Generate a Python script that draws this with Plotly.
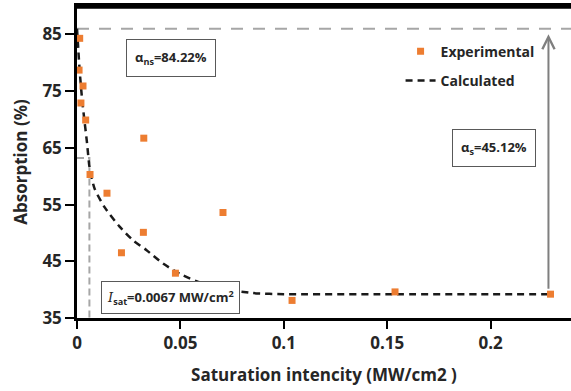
import plotly.graph_objects as go

exp_x = [0.0010, 0.0013, 0.0019, 0.0029, 0.0042, 0.0063, 0.0145, 0.0215, 0.0321, 0.0323, 0.0476, 0.0706, 0.104, 0.1538, 0.229]
exp_y = [78.7, 84.3, 72.9, 75.9, 69.9, 60.3, 57.0, 46.5, 50.1, 66.7, 42.9, 53.6, 38.1, 39.6, 39.2]

# Calculated curve
calc_x = [0.0, 0.0006, 0.0013, 0.0026, 0.0037, 0.0048, 0.0061, 0.0085, 0.0134, 0.0206, 0.0271, 0.0335,
          0.0416, 0.0497, 0.0577, 0.070, 0.085, 0.100, 0.150, 0.200, 0.229]
calc_y = [86.0, 82.5, 78.5, 73.0, 69.5, 66.0, 61.5, 57.8, 54.5, 51.1, 48.7, 47.0,
          44.6, 42.8, 41.5, 40.2, 39.4, 39.2, 39.2, 39.2, 39.2]

# Reference guide values
alpha_top = 86.0
isat_x = 0.006
isat_y = 63.2
arrow_x = 0.228
arrow_from = 39.9
arrow_to = 85.0

x_ticks = [0, 0.05, 0.1, 0.15, 0.2]
x_ticktext = ["0", "0.05", "0.1", "0.15", "0.2"]
y_ticks = [35, 45, 55, 65, 75, 85]

X_MAX = 0.2389
Y_MIN, Y_MAX = 35, 90

FONT = "Open Sans"
ORANGE = "#ED7D31"
GREY = "#a6a6a6"

fig = go.Figure()

# grey dashed guides
fig.add_trace(go.Scatter(x=[0, X_MAX], y=[alpha_top, alpha_top], mode="lines",
                         line=dict(color=GREY, width=2, dash="12px,10px"),
                         showlegend=False, hoverinfo="skip"))
fig.add_trace(go.Scatter(x=[0, isat_x, isat_x], y=[isat_y, isat_y, Y_MIN], mode="lines",
                         line=dict(color=GREY, width=2, dash="7px,4px"),
                         showlegend=False, hoverinfo="skip"))

# calculated curve
fig.add_trace(go.Scatter(x=calc_x, y=calc_y, mode="lines", name="Calculated",
                         line=dict(color="#1a1a1a", width=2.5, dash="7px,5px", shape="spline", smoothing=0.6),
                         legendgroup="b", legendrank=2))

# experimental points
fig.add_trace(go.Scatter(x=exp_x, y=exp_y, mode="markers", name="Experimental",
                         marker=dict(symbol="square", size=7, color=ORANGE),
                         legendgroup="a", legendrank=1))

# arrow
fig.add_annotation(x=arrow_x, y=arrow_to, ax=arrow_x, ay=arrow_from, xref="x", yref="y",
                   axref="x", ayref="y", text="", showarrow=True, arrowhead=5,
                   arrowsize=1.2, arrowwidth=2, arrowcolor="#7f7f7f")

box_font = dict(family=FONT, size=13, color="#262626", weight="bold")
fig.add_annotation(x=0.0453, y=80.8, xref="x", yref="y", text="α<sub>ns</sub>=84.22%",
                   showarrow=False, font=box_font, bordercolor="#595959", borderwidth=1,
                   borderpad=8, bgcolor="white")
fig.add_annotation(x=0.2015, y=65.0, xref="x", yref="y", text="α<sub>s</sub>=45.12%",
                   showarrow=False, font=box_font, bordercolor="#595959", borderwidth=1,
                   borderpad=8, bgcolor="white")
fig.add_annotation(x=0.0453, y=38.6, xref="x", yref="y",
                   text="<span style=\"font-family:'DejaVu Serif';font-style:italic;font-weight:normal\">I</span><sub>sat</sub>=0.0067 MW/cm<sup>2</sup>",
                   showarrow=False, font=box_font, bordercolor="#595959", borderwidth=1,
                   borderpad=5, bgcolor="white")

# top frame line of the plot area (just inside the top edge)
fig.add_shape(type="line", xref="x", yref="y", x0=0, x1=X_MAX, y0=89.8, y1=89.8,
              line=dict(color="black", width=3), layer="above")

axis_font = dict(family=FONT, size=17, color="#262626", weight="bold")

fig.update_layout(
    width=571, height=391,
    margin=dict(l=77, r=0, t=6, b=73, autoexpand=False),
    paper_bgcolor="white", plot_bgcolor="white",
    font=dict(family=FONT, color="#262626"),
    legend=dict(x=0.655, y=0.905, xanchor="left", yanchor="top",
                traceorder="grouped", tracegroupgap=8,
                font=dict(family=FONT, size=14, color="#262626", weight="bold"),
                bgcolor="rgba(0,0,0,0)"),
    xaxis=dict(range=[0, X_MAX], tickvals=x_ticks, ticktext=x_ticktext,
               ticks="outside", ticklen=8, tickwidth=2, tickcolor="black",
               showline=True, linewidth=2.5, linecolor="black", mirror=True,
               showgrid=False, zeroline=False, tickfont=axis_font, automargin=False,
               title=dict(text="Saturation intencity (MW/cm2 )", font=axis_font, standoff=16)),
    yaxis=dict(range=[Y_MIN, Y_MAX], tickvals=y_ticks,
               ticks="outside", ticklen=9, tickwidth=2, tickcolor="black",
               showline=True, linewidth=2.5, linecolor="black",
               showgrid=False, zeroline=False, tickfont=axis_font, automargin=False,
               title=dict(text="Absorption (%)", font=axis_font, standoff=11)),
)

fig.write_html("out.html", config={"displayModeBar": False},
               post_script="document.body.style.margin='0';document.body.style.overflow='hidden';")
